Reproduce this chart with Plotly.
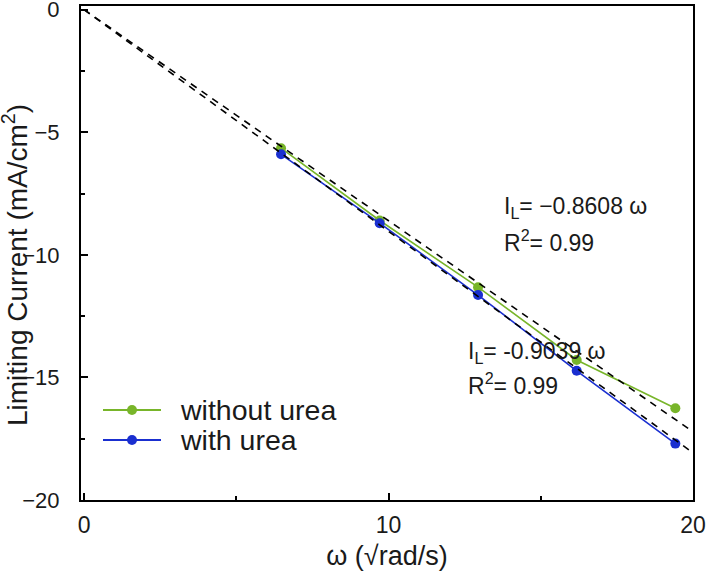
import plotly.graph_objects as go

# Data
omega = [6.47, 9.71, 12.94, 16.18, 19.42]
without_urea = [-5.65, -8.60, -11.32, -14.29, -16.26]
with_urea = [-5.90, -8.71, -11.64, -14.73, -17.70]
fit_x = [0, 20]
slope_without = -0.8608
slope_with = -0.9039
series_names = ["without urea", "with urea"]

GREEN = "#78B52A"
BLUE = "#1A2FD0"
FONT = "Liberation Sans, Arial, sans-serif"
TXT = "#1a1a1a"

fig = go.Figure()
for name, ys, col in zip(series_names, [without_urea, with_urea], [GREEN, BLUE]):
    fig.add_trace(go.Scatter(x=omega, y=ys, mode="lines+markers", name=name, showlegend=False,
                             line=dict(color=col, width=1.6), marker=dict(color=col, size=10)))
for s in (slope_without, slope_with):
    fig.add_trace(go.Scatter(x=fit_x, y=[s * v for v in fit_x], mode="lines", showlegend=False,
                             line=dict(color="black", width=1.6, dash="7px,6px"), hoverinfo="skip"))

# custom legend (paper coords)
W, H, L, B = 612, 494, 81, 77
def px(xp):
    return (xp - L) / W
def py(yp):
    return (577 - B - yp) / H

for name, col, yp in zip(series_names, [GREEN, BLUE], [410, 440]):
    fig.add_shape(type="line", xref="paper", yref="paper", x0=px(103), x1=px(161), y0=py(yp), y1=py(yp),
                  line=dict(color=col, width=1.8))
    fig.add_shape(type="circle", xref="paper", yref="paper", x0=px(127), x1=px(137), y0=py(yp + 5), y1=py(yp - 5),
                  fillcolor=col, line=dict(color=col, width=0))
    fig.add_annotation(x=px(178), y=py(yp), xref="paper", yref="paper", xanchor="left", yanchor="middle",
                       showarrow=False, text=name, font=dict(size=28.5, color=TXT))

fig.add_annotation(x=13.72, y=-8.05, xref="x", yref="y", xanchor="left", yanchor="middle", showarrow=False,
                   text="I<sub>L</sub>= \u22120.8608 \u03c9", font=dict(size=23, color=TXT))
fig.add_annotation(x=13.72, y=-9.45, xref="x", yref="y", xanchor="left", yanchor="middle", showarrow=False,
                   text="R<sup>2</sup>= 0.99", font=dict(size=23, color=TXT))
fig.add_annotation(x=12.55, y=-14.0, xref="x", yref="y", xanchor="left", yanchor="middle", showarrow=False,
                   text="I<sub>L</sub>= -0.9039 \u03c9", font=dict(size=23, color=TXT))
fig.add_annotation(x=12.55, y=-15.25, xref="x", yref="y", xanchor="left", yanchor="middle", showarrow=False,
                   text="R<sup>2</sup>= 0.99", font=dict(size=23, color=TXT))

# y-axis title as rotated annotation
fig.add_annotation(x=px(15), y=py(265), xref="paper", yref="paper", xanchor="center", yanchor="middle",
                   showarrow=False, textangle=-90, text="Limiting Current (mA/cm<sup>2</sup>)",
                   font=dict(size=28, color=TXT))

axis_common = dict(showline=True, linecolor="black", linewidth=2, mirror=True, ticks="inside",
                   ticklen=7, tickwidth=1.5, tickcolor="black", showgrid=False, zeroline=False,
                   ticklabeloverflow="allow", automargin=False)
fig.update_xaxes(range=[-0.1, 20], tickvals=[0, 10, 20], ticklabelstandoff=3,
                 tickfont=dict(size=23, color=TXT),
                 minor=dict(tickvals=[5, 15], ticks="inside", ticklen=4, tickwidth=1.5, tickcolor="black"),
                 title=dict(text="\u03c9 (\u221arad/s)", font=dict(size=27, color=TXT), standoff=10),
                 **axis_common)
fig.update_yaxes(range=[-20, 0.15], tickvals=[0, -5, -10, -15, -20], ticklabelstandoff=15,
                 tickfont=dict(size=22, color=TXT),
                 minor=dict(tickvals=[-2.5, -7.5, -12.5, -17.5], ticks="inside", ticklen=4, tickwidth=1.5, tickcolor="black"),
                 **axis_common)

fig.update_layout(
    width=706, height=577,
    margin=dict(l=L, r=706 - L - W, t=577 - B - H, b=B),
    paper_bgcolor="white", plot_bgcolor="white",
    font=dict(family=FONT, color=TXT),
    showlegend=False,
)

fig.write_html("out.html")
